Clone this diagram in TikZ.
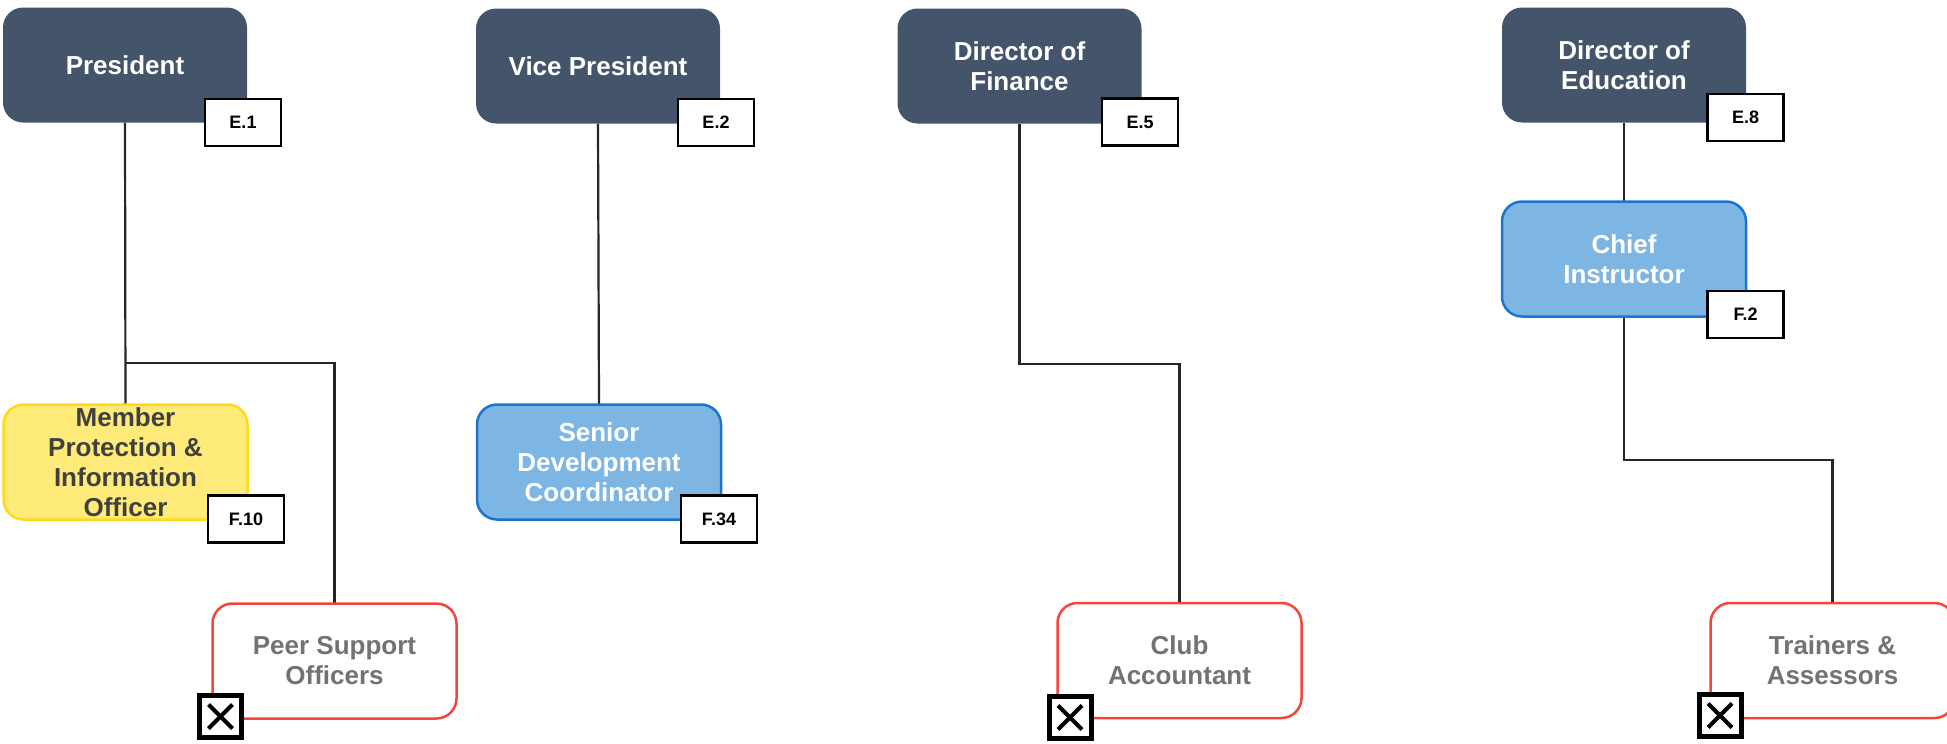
\documentclass[tikz,border=0pt]{standalone}
\usepackage{fontspec}
\setmainfont{Liberation Sans}
\definecolor{navy}{HTML}{44546A}
\definecolor{skyfill}{HTML}{7DB5E3}
\definecolor{skyline}{HTML}{1B74CE}
\definecolor{yelfill}{HTML}{FFEB7A}
\definecolor{yelline}{HTML}{FFD91A}
\definecolor{vacant}{HTML}{F4453C}
\definecolor{vacanttext}{HTML}{767171}
\definecolor{wire}{HTML}{262626}
\begin{document}
\begin{tikzpicture}[x=1pt,y=-1pt,
  role/.style={rounded corners=20pt, minimum width=244pt, minimum height=115pt,
    inner sep=0pt, align=center, font=\fontsize{26}{30}\selectfont\bfseries},
  exec/.style={role, fill=navy, text=white},
  filled/.style={role, fill=skyfill, draw=skyline, line width=2.5pt, text=white},
  shared/.style={role, fill=yelfill, draw=yelline, line width=2.5pt, text=black!75},
  open/.style={role, fill=white, draw=vacant, line width=2.5pt, text=vacanttext},
  tag/.style={draw=black, line width=2.5pt, fill=white, minimum width=76pt,
    minimum height=47pt, inner sep=0pt, font=\fontsize{18}{20}\selectfont\bfseries},
  xbox/.style={draw=black, line width=5pt, fill=white, minimum size=42pt, inner sep=0pt,
    path picture={
      \draw[line width=4pt] ([shift={(-12,-12)}]path picture bounding box.center)
        -- ([shift={(12,12)}]path picture bounding box.center);
      \draw[line width=4pt] ([shift={(-12,12)}]path picture bounding box.center)
        -- ([shift={(12,-12)}]path picture bounding box.center);}},
  link/.style={draw=wire, line width=2.2pt}]
\useasboundingbox (0,0) rectangle (1947,744);

% positions of the role boxes
\coordinate (pPres) at (125,65);
\coordinate (pVP) at (598,66);
\coordinate (pFin) at (1019.5,66);
\coordinate (pEdu) at (1624,65);
\coordinate (pChief) at (1624,259);
\coordinate (pMem) at (125.5,462);
\coordinate (pSen) at (599,462);
\coordinate (pPeer) at (334.5,661);
\coordinate (pClub) at (1179.5,660.5);
\coordinate (pTrain) at (1832.5,660.5);

% invisible outlines to hang the connectors on
\node[role] (pres) at (pPres) {};
\node[role] (vp) at (pVP) {};
\node[role] (fin) at (pFin) {};
\node[role] (edu) at (pEdu) {};
\node[role] (chief) at (pChief) {};
\node[role] (mem) at (pMem) {};
\node[role] (sen) at (pSen) {};
\node[role] (peer) at (pPeer) {};
\node[role] (club) at (pClub) {};
\node[role] (train) at (pTrain) {};
\coordinate (presfork) at (125,363);

% connectors, drawn first so the boxes sit on top
\draw[link] (pres.south) -- (mem.north);
\draw[link] (presfork) -| (peer.north);
\draw[link] (vp.south) -- (sen.north);
\draw[link] (fin.south) -- ++(0,240) -| (club.north);
\draw[link] (edu.south) -- (chief.north);
\draw[link] (chief.south) -- ++(0,143) -| (train.north);

% role boxes
\node[exec] at (pPres) {President};
\node[exec] at (pVP) {Vice President};
\node[exec] at (pFin) {Director of\\Finance};
\node[exec] at (pEdu) {Director of\\Education};
\node[filled] at (pChief) {Chief\\Instructor};
\node[shared] at (pMem) {Member\\Protection \&\\Information\\Officer};
\node[filled] at (pSen) {Senior\\Development\\Coordinator};
\node[open] at (pPeer) {Peer Support\\Officers};
\node[open] at (pClub) {Club\\Accountant};
\node[open] at (pTrain) {Trainers \&\\Assessors};

% reference tags
\node[tag] (t1) at (243,122.5) {E.1};
\node[tag] (t2) at (716,122.5) {E.2};
\node[tag] (t5) at (1140,122) {E.5};
\node[tag] (t8) at (1745.5,117.5) {E.8};
\node[tag] (tf2) at (1745.5,314.5) {F.2};
\node[tag] (tf10) at (246,519) {F.10};
\node[tag] (tf34) at (719,519) {F.34};

% vacancy markers
\node[xbox] (x1) at (220.5,716.5) {};
\node[xbox] (x2) at (1070,717.5) {};
\node[xbox] (x3) at (1720,715.5) {};
\end{tikzpicture}
\end{document}
